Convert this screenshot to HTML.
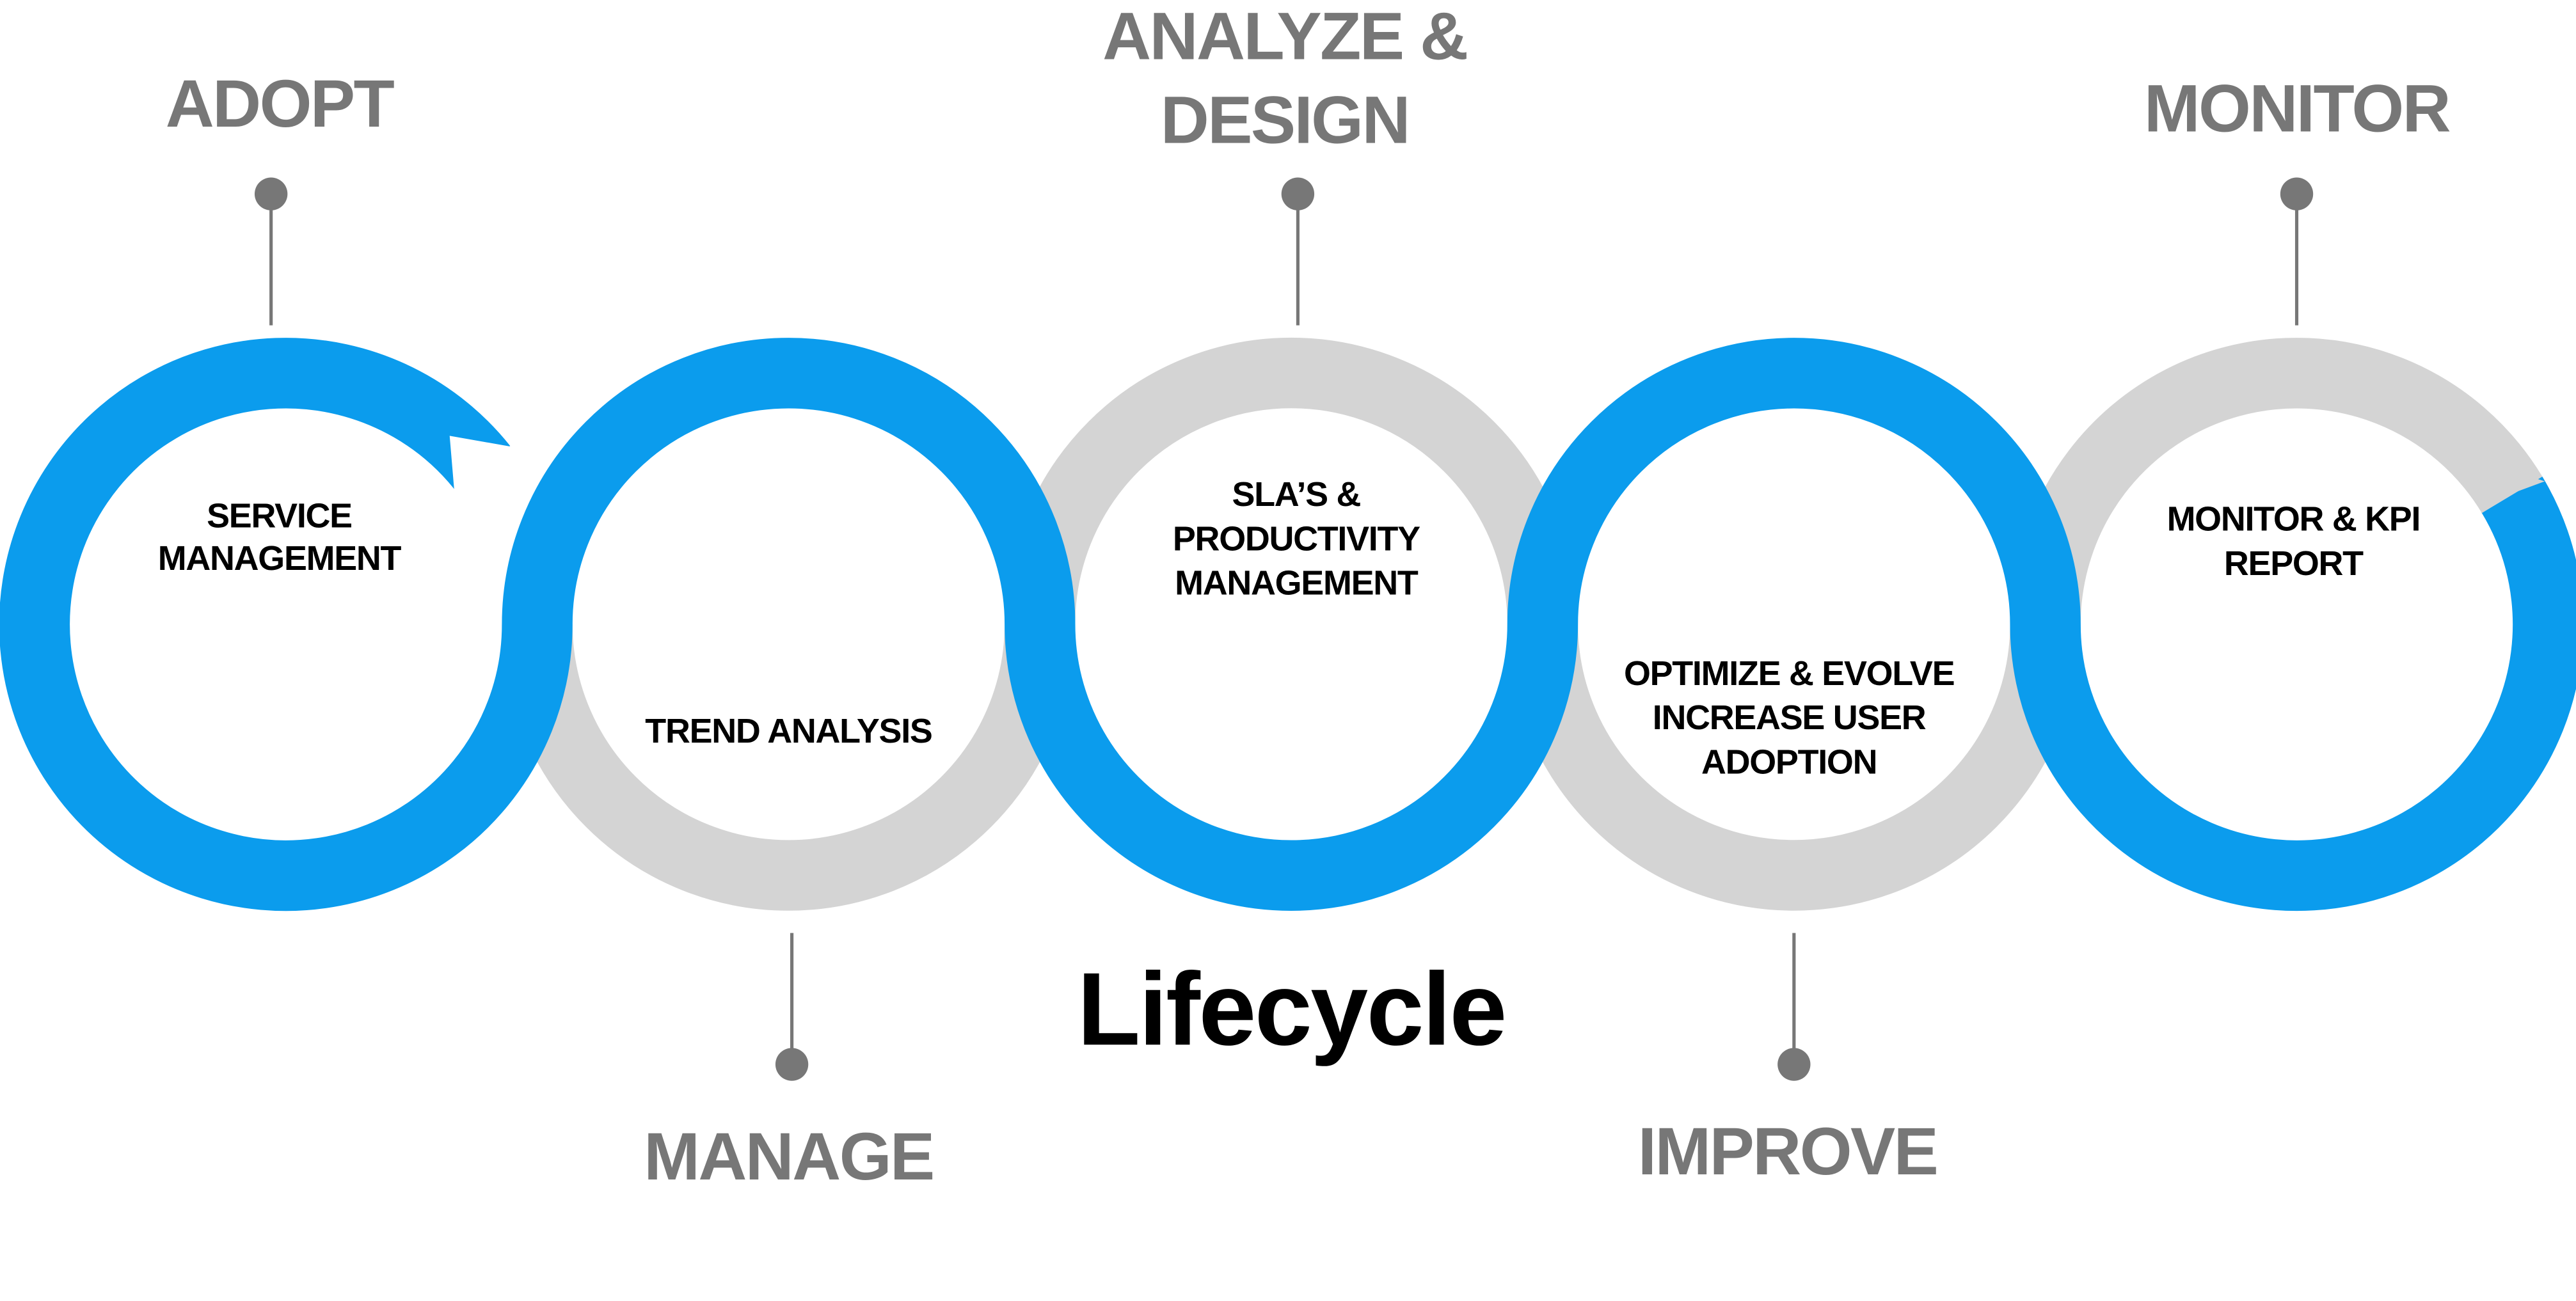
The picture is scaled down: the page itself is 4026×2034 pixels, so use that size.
<!DOCTYPE html>
<html><head><meta charset="utf-8"><style>
html,body{margin:0;padding:0;background:#fff;}
svg{display:block;}
text{font-family:"Liberation Sans",Arial,sans-serif;font-weight:bold;}
</style></head><body>
<svg width="4026" height="2034" viewBox="0 0 1568 792" xmlns="http://www.w3.org/2000/svg">
<rect width="1568" height="792" fill="#fff"/>
<g fill="none" stroke="#d4d4d4" stroke-width="43">
<path d="M327,380 A153,153 0 0 0 633,380"/>
<path d="M633,380 A153,153 0 0 1 939,380"/>
<path d="M939,380 A153,153 0 0 0 1245,380"/>
<path d="M1245,380 A153,153 0 0 1 1529.1,301.2"/>
</g>
<path d="M293.7,284.8 A153,153 0 1 0 327,380 A153,153 0 0 1 633,380 A153,153 0 0 0 939,380 A153,153 0 0 1 1245,380 A153,153 0 1 0 1529.1,301.2" fill="none" stroke="#0b9ced" stroke-width="43"/>
<polygon points="310.2,271.7 273.7,265.3 276.5,298.5 300,290" fill="#fff"/>
<polygon points="1549,293 1514,281.7 1510.3,312.5 1530,300" fill="#d4d4d4"/>
<g stroke="#777" stroke-width="2">
<line x1="165" y1="118" x2="165" y2="198"/>
<line x1="790" y1="118" x2="790" y2="198"/>
<line x1="1398" y1="118" x2="1398" y2="198"/>
<line x1="482" y1="568" x2="482" y2="648"/>
<line x1="1092" y1="568" x2="1092" y2="648"/>
</g>
<g fill="#777">
<circle cx="165" cy="118" r="10"/>
<circle cx="790" cy="118" r="10"/>
<circle cx="1398" cy="118" r="10"/>
<circle cx="482" cy="648" r="10"/>
<circle cx="1092" cy="648" r="10"/>
</g>
<g fill="#777" font-size="41" text-anchor="middle" letter-spacing="-1">
<text x="170" y="77">ADOPT</text>
<text x="782" y="36">ANALYZE &amp;</text>
<text x="782" y="87">DESIGN</text>
<text x="1398" y="80">MONITOR</text>
<text x="480" y="718">MANAGE</text>
<text x="1088" y="715">IMPROVE</text>
</g>
<text x="786" y="636" font-size="63" text-anchor="middle" fill="#000" letter-spacing="-1">Lifecycle</text>
<g fill="#000" font-size="21" text-anchor="middle" letter-spacing="-0.5">
<text x="170" y="321">SERVICE</text>
<text x="170" y="347">MANAGEMENT</text>
<text x="480" y="452">TREND ANALYSIS</text>
<text x="789" y="308">SLA’S &amp;</text>
<text x="789" y="335">PRODUCTIVITY</text>
<text x="789" y="362">MANAGEMENT</text>
<text x="1089" y="417">OPTIMIZE &amp; EVOLVE</text>
<text x="1089" y="444">INCREASE USER</text>
<text x="1089" y="471">ADOPTION</text>
<text x="1396" y="323">MONITOR &amp; KPI</text>
<text x="1396" y="350">REPORT</text>
</g>
</svg>
</body></html>
